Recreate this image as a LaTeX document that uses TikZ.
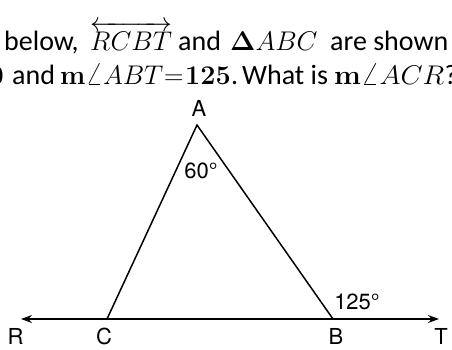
\documentclass[tikz,border=0pt]{standalone}
\usepackage{amsmath}
\usepackage{graphicx}
\usepackage[no-math]{fontspec}
\setmainfont{Carlito}
\newfontfamily\labelfont{TeX Gyre Heros}
\usetikzlibrary{arrows.meta}
\newcommand{\bigmath}[1]{\scalebox{1.085}{$#1$}}
\newcommand{\widemath}[1]{\scalebox{1.15}[1.085]{$#1$}}
\begin{document}
\begin{tikzpicture}[x=1pt,y=-1pt,
  txt/.style={anchor=base west, inner sep=0pt, font=\fontsize{28}{32}\selectfont},
  mth/.style={anchor=base west, inner sep=0pt, font=\fontsize{24.88}{30}\selectfont},
  lbl/.style={inner sep=0pt, font=\labelfont\fontsize{22}{26}\selectfont},
  edge/.style={line width=1.5pt, line join=miter},
  ray/.style={line width=1.5pt, {Stealth[length=11pt,width=8pt]}-{Stealth[length=11pt,width=8pt]}}]
\useasboundingbox (0,0) rectangle (452,349);
\clip (0,0) rectangle (452,349);
% question text, line 1
\node[txt] (l1a) at (4,50) {below,};
\node[mth] (l1b) at (90,50) {\bigmath{\overleftrightarrow{RCBT}}};
\node[txt] (l1c) at (178,50) {and};
\node[mth] (l1d) at (230,50) {\bigmath{\mathbf{\Delta}ABC}};
\node[txt] (l1e) at (330,50) {are shown};
% line 2
\node[mth, anchor=base east] (l2a) at (4,84) {\bigmath{\mathbf{60}}};
\node[txt] (l2b) at (12,84) {and};
\node[mth] (l2c) at (60,84) {\bigmath{\mathbf{m}\angle ABT}};
\node[mth] (l2d) at (164,84) {\bigmath{=}};
\node[mth] (l2e) at (185,84) {\bigmath{\mathbf{125}}};
\node[txt] (l2f) at (231,84) {.};
\node[txt] (l2g) at (242,84) {What is};
\node[mth] (l2h) at (334,84) {\widemath{\mathbf{m}\angle ACR}};
\node[txt, anchor=base west] (l2i) at (l2h.base east) {?};
% geometry
\coordinate (A) at (197,125);
\coordinate (C) at (107,319);
\coordinate (B) at (333,319);
\coordinate (R) at (21,319);
\coordinate (T) at (439,319);
\draw[edge] (C) -- (A) -- (B);
\draw[ray] (R) -- (T);
% labels
\node[lbl] (lA) at (199,108) {A};
\node[lbl] (l60) at (201,171) {60°};
\node[lbl] (l125) at (357,302) {125°};
\node[lbl] (lR) at (15.5,336) {R};
\node[lbl] (lC) at (104,336) {C};
\node[lbl] (lB) at (336,336) {B};
\node[lbl] (lT) at (441,336) {T};
\end{tikzpicture}
\end{document}
